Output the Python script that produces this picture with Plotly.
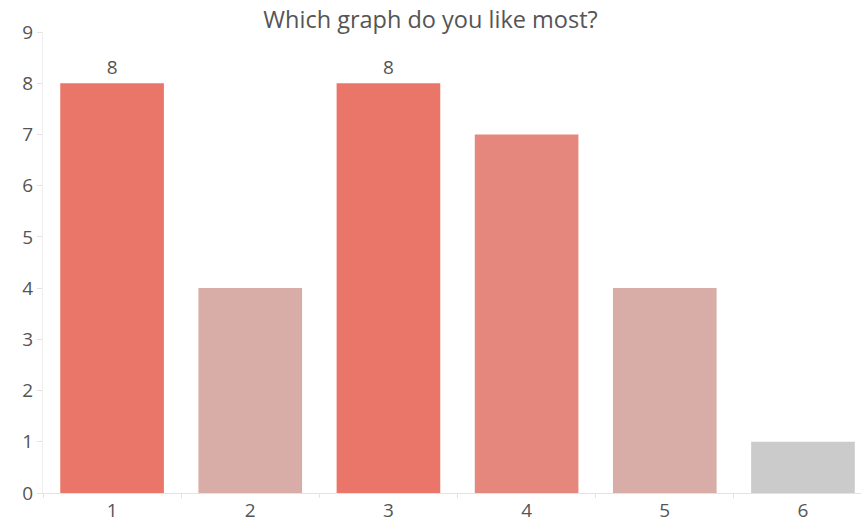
import plotly.graph_objects as go

categories = ["1", "2", "3", "4", "5", "6"]
votes = [8, 4, 8, 7, 4, 1]
bar_colors = ["#EA7569", "#D8ACA7", "#EA7569", "#E6877D", "#D8ACA7", "#CBCBCB"]

top = max(votes)
labels = [str(v) if v == top else "" for v in votes]

fig = go.Figure(
    go.Bar(
        x=categories,
        y=votes,
        marker=dict(color=bar_colors, line=dict(width=0)),
        width=0.75,
        text=labels,
        textposition="outside",
        cliponaxis=False,
        textfont=dict(size=19, color="#555555"),
    )
)

fig.update_layout(
    width=861,
    height=523,
    margin=dict(l=43, r=0, t=32, b=30),
    paper_bgcolor="white",
    plot_bgcolor="white",
    font=dict(family="Open Sans", color="#555555", size=18),
    title=dict(
        text="Which graph do you like most?",
        x=0.5,
        xanchor="center",
        y=0.962,
        yanchor="middle",
        font=dict(size=23.5, color="#555555"),
    ),
    showlegend=False,
    bargap=0.25,
)

fig.update_xaxes(
    type="category",
    range=[-0.5, 5.42],
    showgrid=False,
    showline=True,
    linecolor="#E3E3E3",
    linewidth=1,
    ticks="outside",
    tickson="boundaries",
    ticklen=4,
    tickcolor="#E3E3E3",
    tickfont=dict(size=19, color="#555555"),
)

fig.update_yaxes(
    range=[0, 9],
    dtick=1,
    showgrid=False,
    zeroline=False,
    showline=True,
    linecolor="#EEEEEE",
    linewidth=1,
    ticks="outside",
    ticklen=5,
    tickcolor="#E3E3E3",
    tickfont=dict(size=19, color="#555555"),
)

fig.write_html("out.html")
